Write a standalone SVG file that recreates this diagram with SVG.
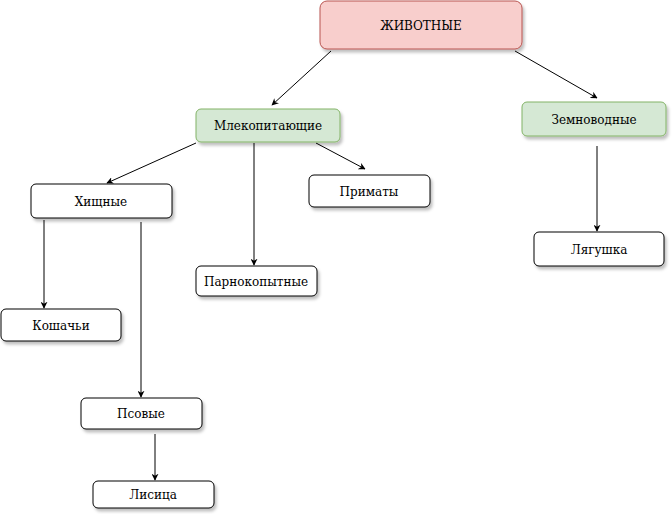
<svg xmlns="http://www.w3.org/2000/svg" width="672" height="514" viewBox="0 0 672 514">
<style>
.n rect{stroke-width:1;}
.w{fill:#ffffff;stroke:#000000;}
.g{fill:#d5e8d4;stroke:#82b366;}
.r{fill:#f8cecc;stroke:#b85450;}
text{font-family:"DejaVu Serif","Liberation Serif",serif;font-size:12px;fill:#000;text-anchor:middle;}
.c line{stroke:#000;stroke-width:1;marker-end:url(#a);}
</style>
<defs>
<marker id="a" viewBox="0 0 10 10" refX="9" refY="5" markerWidth="7" markerHeight="7" orient="auto" markerUnits="userSpaceOnUse"><path d="M0,0 L10,5 L0,10 L3,5 Z" fill="#000"/></marker>
<filter id="s" x="-10%" y="-20%" width="130%" height="160%"><feDropShadow dx="2" dy="3" stdDeviation="1.5" flood-color="#000" flood-opacity="0.25"/></filter>
</defs>
<g class="c">
<line x1="331" y1="51" x2="272" y2="105"/>
<line x1="515" y1="51" x2="597" y2="98"/>
<line x1="196" y1="143" x2="107" y2="183"/>
<line x1="254" y1="143" x2="254" y2="265"/>
<line x1="316" y1="143" x2="365" y2="169"/>
<line x1="597" y1="146" x2="597" y2="231"/>
<line x1="44" y1="220" x2="44" y2="308"/>
<line x1="141" y1="222" x2="141" y2="397"/>
<line x1="155" y1="434" x2="155" y2="480"/>
</g>
<g id="animals" class="n"><rect class="r" x="320" y="1" width="202" height="48" rx="7" filter="url(#s)"/><text x="421" y="30">ЖИВОТНЫЕ</text></g>
<g id="mammals" class="n"><rect class="g" x="196" y="109" width="144" height="33" rx="5" filter="url(#s)"/><text x="268" y="130">Млекопитающие</text></g>
<g id="amphibians" class="n"><rect class="g" x="522" y="102" width="144" height="34" rx="5" filter="url(#s)"/><text x="594" y="124">Земноводные</text></g>
<g id="predators" class="n"><rect class="w" x="31" y="184" width="141" height="34" rx="5" filter="url(#s)"/><text x="101" y="206">Хищные</text></g>
<g id="primates" class="n"><rect class="w" x="309" y="175" width="121" height="32" rx="5" filter="url(#s)"/><text x="369" y="196">Приматы</text></g>
<g id="artiodactyls" class="n"><rect class="w" x="196" y="266" width="121" height="30" rx="5" filter="url(#s)"/><text x="256" y="286">Парнокопытные</text></g>
<g id="felines" class="n"><rect class="w" x="1" y="309" width="120" height="32" rx="5" filter="url(#s)"/><text x="61" y="330">Кошачьи</text></g>
<g id="canines" class="n"><rect class="w" x="81" y="398" width="121" height="31" rx="5" filter="url(#s)"/><text x="141" y="418">Псовые</text></g>
<g id="fox" class="n"><rect class="w" x="93" y="481" width="121" height="27" rx="5" filter="url(#s)"/><text x="153" y="499">Лисица</text></g>
<g id="frog" class="n"><rect class="w" x="534" y="232" width="130" height="34" rx="5" filter="url(#s)"/><text x="599" y="254">Лягушка</text></g>
</svg>
